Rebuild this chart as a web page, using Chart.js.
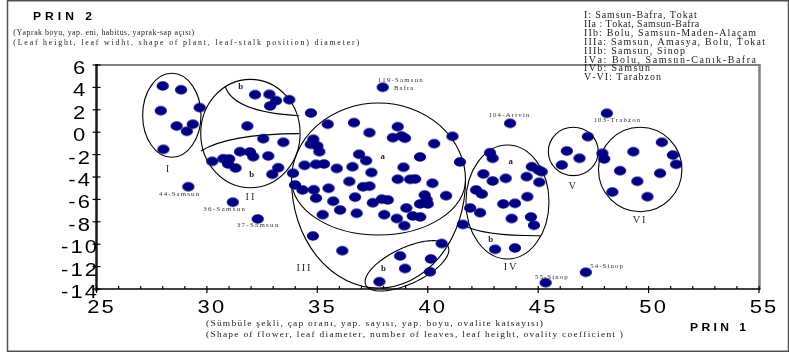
<!DOCTYPE html>
<html>
<head>
<meta charset="utf-8">
<script src="https://cdn.jsdelivr.net/npm/chart.js@4.4.1/dist/chart.umd.min.js"></script>
<style>
  html, body { margin: 0; padding: 0; background: #fff; }
  #wrap { width: 789px; height: 354px; }
</style>
</head>
<body>
<div id="wrap"><canvas id="c" width="789" height="354"></canvas></div>
<script>
// PRIN 1 / PRIN 2 scores of the accessions, grouped by cluster: [prin1, prin2]
const groupI = [[28.00,4.13],[28.83,3.79],[27.91,1.92],[29.67,2.19],[28.63,0.55],[29.36,0.71],[29.09,0.08],[28.03,-1.53]];
const groupII = [[32.18,3.35],[32.83,3.38],[33.13,2.81],[32.86,2.34],[33.73,2.90],[31.83,0.55],[32.55,-0.58],[33.46,-0.90],
  [31.50,-1.74],[31.95,-1.77],[32.10,-2.19],[32.78,-2.13],[30.24,-2.60],[30.74,-2.37],[31.01,-2.39],[30.96,-2.84],
  [31.30,-3.20],[33.23,-3.17],[32.96,-3.76],[33.90,-3.67]];
const groupIII = [[34.42,-2.96],[34.71,1.71],[34.70,-1.08],[35.47,0.71],[36.66,0.85],[37.36,-0.04],[38.64,0.49],[38.42,-0.49],
  [38.81,-0.34],[38.97,-0.54],[40.29,-1.03],[41.12,-0.37],[34.82,-0.63],[35.00,-1.23],[35.09,-1.74],[36.89,-1.97],
  [37.21,-2.54],[39.65,-2.21],[41.46,-2.66],[34.94,-2.87],[35.30,-2.84],[35.88,-3.24],[36.59,-3.09],[38.90,-3.13],
  [37.45,-3.60],[38.64,-4.20],[39.20,-4.21],[39.43,-4.18],[36.45,-4.40],[40.21,-4.56],[33.99,-4.71],[34.33,-5.16],
  [34.84,-5.14],[35.51,-5.01],[37.07,-4.88],[37.36,-4.82],[34.94,-5.89],[35.72,-6.16],[36.71,-5.80],[37.51,-6.30],
  [37.92,-5.98],[38.19,-6.05],[39.86,-5.61],[39.95,-6.03],[39.65,-6.41],[40.00,-6.41],[40.83,-5.67],[39.03,-6.77],
  [35.24,-7.37],[36.03,-6.95],[36.78,-7.24],[38.03,-7.37],[38.60,-7.71],[39.32,-7.48],[39.66,-7.57],[38.94,-8.35],
  [41.59,-8.24],[34.80,-9.27],[36.13,-10.58]];
const groupIIIb = [[40.63,-9.94],[38.75,-11.05],[40.14,-11.32],[38.97,-12.17],[40.10,-12.46],[37.81,-13.35]];
const groupIV = [[42.82,-1.83],[42.94,-2.33],[42.52,-3.73],[42.94,-4.36],[43.53,-4.12],[44.48,-3.97],[44.71,-3.08],
  [45.01,-3.38],[45.16,-3.53],[45.05,-4.47],[42.19,-5.16],[42.45,-5.52],[43.42,-6.41],[43.95,-6.35],[44.51,-5.76],
  [41.92,-6.77],[42.37,-7.19],[43.80,-7.71],[44.67,-7.57],[44.81,-8.31],[43.05,-10.46],[43.95,-10.34]];
const groupV = [[47.25,-0.40],[46.30,-1.68],[46.87,-2.33],[46.07,-2.93]];
const groupVI = [[47.91,-1.88],[47.99,-2.39],[49.31,-1.74],[50.60,-0.90],[51.10,-2.04],[51.25,-2.87],[48.71,-3.44],
  [50.52,-3.67],[49.49,-4.38],[48.36,-5.34],[49.95,-5.76]];

// Named accessions outside the clusters
const singles = [[29.16,-4.87],[31.17,-6.25],[32.30,-7.75],[37.96,4.01],[43.73,0.79],[48.11,1.69],[45.34,-13.44],[47.16,-12.51]];
const singleNames = ['44-Samsun','36-Samsun','37-Samsun','119-Samsun','104-Artvin','103-Trabzon','55-Sinop','54-Sinop'];

// Axis tick values
const prin1Ticks = [25, 30, 35, 40, 45, 50, 55];
const prin2Ticks = [-14, -12, -10, -8, -6, -4, -2, 0, 2, 4, 6];

// Origin key
const originKey = ['I: Samsun-Bafra, Tokat', 'IIa : Tokat, Samsun-Bafra', 'IIb: Bolu, Samsun-Maden-Alaçam',
  'IIIa: Samsun, Amasya, Bolu, Tokat', 'IIIb: Samsun, Sinop', 'IVa: Bolu, Samsun-Canık-Bafra', 'IVb: Samsun', 'V-VI: Tarabzon'];

// ---- cluster outlines (in axis units) ----
const outlines = [
  { c: [28.41, 1.51], r: [1.32, 3.75] },   // I
  { c: [31.97, -0.12], r: [2.25, 4.84] },  // II
  { c: [43.61, -6.23], r: [1.88, 5.09] },  // IV
  { c: [46.59, -1.72], r: [1.13, 2.16] },  // V
  { c: [49.62, -3.33], r: [1.89, 3.77] }   // VI
];
const outlineIII = { cx: 37.77, cy: -4.27, rx: 3.94, ryTop: 6.875, ryBottom: 9.64, ryA: 4.91 };
const outlineIIIb = { c: [39.06, -11.93], u: [1.864, 1.714], v: [0.345, -1.458] };
const dividers = [
  [[30.82, 4.125], [31.18, 1.80], [34.18, 1.47]],
  [[29.73, -1.68], [30.96, -0.16], [34.18, -0.13]],
  [[41.69, -8.375], [42.60, -9.27], [45.09, -9.24]]
];
const groupTags = [['I', 28.21, -3.29], ['II', 31.95, -5.81], ['III', 34.37, -12.21], ['IV', 43.73, -12.10], ['V', 46.54, -4.87], ['VI', 49.57, -7.90]];
const subTags = [['b', 31.53, 4.01], ['b', 32.03, -3.82], ['a', 37.96, -2.19], ['b', 37.99, -12.24], ['a', 43.76, -2.63], ['b', 42.85, -9.63]];
// label placement next to each named accession: [dx, dy, width] in px
const singleLabelPos = [[-29.3, 7.6, 40], [-29.5, 6.8, 41.7], [-21, 6.7, 41.6], [-5, -6.6, 45], [-21.7, -8.3, 41], [-13.4, 6.7, 46.7], [-10.7, -5.4, 32.7], [4.3, -5.6, 32.7]];

const NAVY = '#000080';
const SERIF = '"Liberation Serif", "Times New Roman", serif';
const SANS = '"Liberation Sans", Arial, sans-serif';

function makeDot() {
  const c = document.createElement('canvas');
  c.width = 14; c.height = 12;
  const g = c.getContext('2d');
  g.fillStyle = NAVY;
  g.beginPath();
  g.ellipse(7, 6, 6.1, 4.7, 0, 0, Math.PI * 2);
  g.fill();
  return c;
}
const dot = makeDot();

// letter-spaced text: glyphs widened by sx, gaps either fixed (spacing) or fitted to a width
function txt(ctx, s, x, y, o) {
  ctx.save();
  ctx.font = o.font;
  ctx.fillStyle = o.color || '#222';
  ctx.textBaseline = 'middle';
  ctx.textAlign = 'left';
  const sx = o.sx || 1;
  const chars = Array.from(s);
  const ws = chars.map(ch => ctx.measureText(ch).width * sx);
  const nat = ws.reduce((a, b) => a + b, 0);
  let sp = o.spacing || 0;
  if (o.width && chars.length > 1) sp = (o.width - nat) / (chars.length - 1);
  const total = nat + sp * (chars.length - 1);
  let left = x;
  if (o.align === 'center') left = x - total / 2;
  else if (o.align === 'right') left = x - total;
  chars.forEach((ch, i) => {
    ctx.save();
    ctx.translate(left, y);
    ctx.scale(sx, 1);
    ctx.fillText(ch, 0, 0);
    ctx.restore();
    left += ws[i] + sp;
  });
  ctx.restore();
}

function line(ctx, x1, y1, x2, y2) {
  ctx.beginPath(); ctx.moveTo(x1, y1); ctx.lineTo(x2, y2); ctx.stroke();
}

const decor = {
  id: 'decor',
  beforeDraw(chart) {
    const ctx = chart.ctx;
    ctx.save();
    ctx.fillStyle = '#fff';
    ctx.fillRect(0, 0, chart.width, chart.height);
    ctx.restore();
  },
  beforeDatasetsDraw(chart) {
    const ctx = chart.ctx, xs = chart.scales.x, ys = chart.scales.y;
    const X = v => xs.getPixelForValue(v), Y = v => ys.getPixelForValue(v);
    ctx.save();
    ctx.strokeStyle = '#000';
    ctx.lineWidth = 1.1;
    outlines.forEach(o => {
      const cx = X(o.c[0]), cy = Y(o.c[1]);
      ctx.beginPath();
      ctx.ellipse(cx, cy, Math.abs(X(o.c[0] + o.r[0]) - cx), Math.abs(Y(o.c[1] + o.r[1]) - cy), 0, 0, Math.PI * 2);
      ctx.stroke();
    });
    // cluster III: shared upper arc, outer lower arc and the inner "a" boundary
    const o3 = outlineIII;
    const cx3 = X(o3.cx), cy3 = Y(o3.cy), rx3 = Math.abs(X(o3.cx + o3.rx) - cx3);
    const rT = Math.abs(Y(o3.cy + o3.ryTop) - cy3), rB = Math.abs(Y(o3.cy - o3.ryBottom) - cy3), rA = Math.abs(Y(o3.cy - o3.ryA) - cy3);
    ctx.beginPath();
    ctx.ellipse(cx3, cy3, rx3, rT, 0, Math.PI, Math.PI * 2);
    ctx.ellipse(cx3, cy3, rx3, rB, 0, 0, Math.PI);
    ctx.closePath();
    ctx.stroke();
    ctx.beginPath();
    ctx.ellipse(cx3, cy3, rx3, rA, 0, 0, Math.PI);
    ctx.stroke();
    // tilted IIIb outline
    const b = outlineIIIb;
    ctx.beginPath();
    for (let i = 0; i <= 120; i++) {
      const t = i / 120 * Math.PI * 2;
      const px = X(b.c[0] + b.u[0] * Math.cos(t) + b.v[0] * Math.sin(t));
      const py = Y(b.c[1] + b.u[1] * Math.cos(t) + b.v[1] * Math.sin(t));
      if (i === 0) ctx.moveTo(px, py); else ctx.lineTo(px, py);
    }
    ctx.closePath();
    ctx.stroke();
    // sub-group boundaries
    dividers.forEach(d => {
      ctx.beginPath();
      ctx.moveTo(X(d[0][0]), Y(d[0][1]));
      ctx.quadraticCurveTo(X(d[1][0]), Y(d[1][1]), X(d[2][0]), Y(d[2][1]));
      ctx.stroke();
    });
    groupTags.forEach(t => txt(ctx, t[0], X(t[1]), Y(t[2]), { font: '9.5px ' + SERIF, align: 'center', sx: 1.1, spacing: 1.8, color: '#333' }));
    subTags.forEach(t => txt(ctx, t[0], X(t[1]), Y(t[2]), { font: 'bold 8px ' + SERIF, align: 'center', sx: 1.1, color: '#222' }));
    ctx.restore();
  },
  afterDatasetsDraw(chart) {
    const ctx = chart.ctx, xs = chart.scales.x, ys = chart.scales.y;
    const L = chart.chartArea.left, R = chart.chartArea.right, T = chart.chartArea.top, B = chart.chartArea.bottom;
    ctx.save();
    // outer frame
    ctx.strokeStyle = '#505050'; ctx.lineWidth = 1.5;
    ctx.strokeRect(7.5, 0.75, 781, 350.5);
    // plot box
    ctx.strokeStyle = '#808080';
    ctx.lineWidth = 2; line(ctx, L, T, R + 1.5, T);
    ctx.lineWidth = 2.5; line(ctx, R + 0.5, T - 1, R + 0.5, B);
    // axes
    ctx.strokeStyle = '#000'; ctx.lineWidth = 1.5;
    line(ctx, L, B, R + 1.5, B);
    ctx.strokeStyle = '#1a1a1a'; ctx.lineWidth = 2.5;
    line(ctx, L, T - 1, L, B + 2);
    ctx.strokeStyle = '#000'; ctx.lineWidth = 1.2;
    for (let v = xs.min; v <= xs.max; v++) {
      const px = xs.getPixelForValue(v);
      if (v % 5 === 0) line(ctx, px, B - 3, px, B + 4);
      else line(ctx, px, B - 3, px, B);
    }
    ys.ticks.forEach(t => {
      const py = ys.getPixelForValue(t.value);
      line(ctx, L - 4, py, L + 4, py);
    });
    // tick labels
    const tickFont = { font: '18px ' + SANS, align: 'center', sx: 1.22, spacing: 2.2, color: '#000' };
    xs.ticks.forEach(t => txt(ctx, String(t.value), xs.getPixelForValue(t.value) + 4, 308, tickFont));
    ys.ticks.forEach(t => txt(ctx, String(t.value), 79, ys.getPixelForValue(t.value) + 4, tickFont));
    // axis titles and descriptions
    txt(ctx, 'PRIN 2', 33, 16.7, { font: 'bold 11px ' + SANS, sx: 1.1, width: 59, color: '#000' });
    txt(ctx, '(Yaprak boyu, yap. eni, habitus, yaprak-sap açısı)', 13.3, 33.3, { font: '7.5px ' + SERIF, sx: 1.05, width: 180.7 });
    txt(ctx, '(Leaf height, leaf widht, shape of plant, leaf-stalk position) diameter)', 13.3, 42.7, { font: '7.5px ' + SERIF, sx: 1.05, width: 345.7 });
    txt(ctx, '(Sümbüle şekli, çap oranı, yap. sayısı, yap. boyu, ovalite katsayısı)', 206, 323.3, { font: '9px ' + SERIF, sx: 1.05, width: 337 });
    txt(ctx, '(Shape of flower, leaf diameter, number of leaves, leaf height, ovality coefficient )', 206, 334.3, { font: '9px ' + SERIF, sx: 1.05, width: 417 });
    txt(ctx, 'PRIN 1', 690, 328.3, { font: 'bold 11px ' + SANS, sx: 1.1, width: 56, color: '#000' });
    // origin key
    const keyW = [112.7, 115.3, 172, 181, 101, 172, 66, null];
    originKey.forEach((s, i) => txt(ctx, s, 584, 15.7 + i * 8.86,
      keyW[i] ? { font: '9.5px ' + SERIF, sx: 1.05, width: keyW[i] } : { font: '9.5px ' + SERIF, sx: 1.05, spacing: 1 }));
    // named accessions
    singles.forEach((p, i) => {
      const px = xs.getPixelForValue(p[0]), py = ys.getPixelForValue(p[1]);
      const lp = singleLabelPos[i];
      txt(ctx, singleNames[i], px + lp[0], py + lp[1], { font: '6.5px ' + SERIF, sx: 1.05, width: lp[2], color: '#333' });
      if (singleNames[i] === '119-Samsun') txt(ctx, 'Bafra', px + 11.3, py + 0.7, { font: '6.5px ' + SERIF, sx: 1.05, width: 19.3, color: '#333' });
    });
    ctx.restore();
  }
};

const toPts = arr => arr.map(p => ({ x: p[0], y: p[1] }));
const groups = [groupI, groupII, groupIII, groupIIIb, groupIV, groupV, groupVI, singles];

new Chart(document.getElementById('c'), {
  type: 'scatter',
  data: {
    datasets: groups.map(g => ({
      data: toPts(g),
      pointStyle: dot,
      pointRadius: 5,
      pointHoverRadius: 5,
      backgroundColor: NAVY,
      borderColor: NAVY
    }))
  },
  options: {
    responsive: false,
    animation: false,
    devicePixelRatio: 1,
    events: [],
    layout: { padding: { left: 0, right: 30, top: 65, bottom: 0 } },
    plugins: { legend: { display: false }, tooltip: { enabled: false } },
    scales: {
      x: {
        type: 'linear', min: 25, max: 55,
        afterBuildTicks: s => { s.ticks = prin1Ticks.map(v => ({ value: v })); },
        afterFit: s => { s.height = 65; },
        ticks: { display: false },
        grid: { display: false },
        border: { display: false }
      },
      y: {
        type: 'linear', min: -14, max: 6,
        afterBuildTicks: s => { s.ticks = prin2Ticks.map(v => ({ value: v })); },
        afterFit: s => { s.width = 96.5; },
        ticks: { display: false },
        grid: { display: false },
        border: { display: false }
      }
    }
  },
  plugins: [decor]
});
</script>
</body>
</html>
